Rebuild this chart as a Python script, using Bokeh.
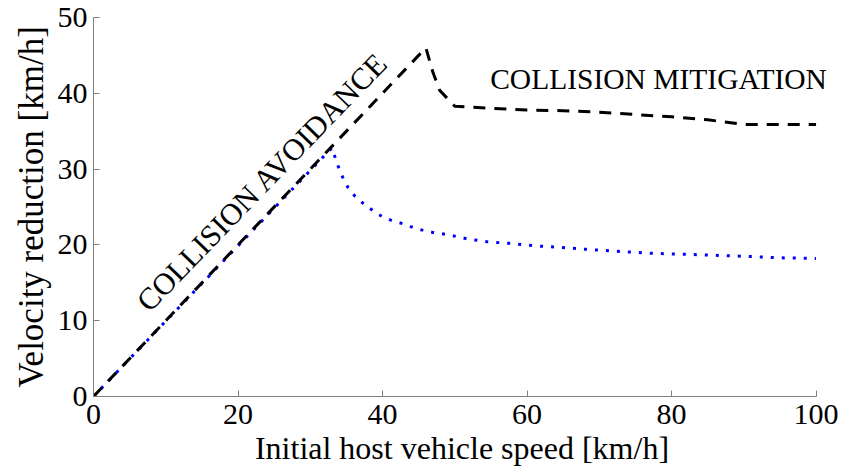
import numpy as np
from bokeh.plotting import figure
from bokeh.models import Range1d, FixedTicker, Label
from bokeh.embed import file_html
from bokeh.resources import INLINE

# Data
avoid_speed = [0, 46, 47, 47.9, 48.9, 50, 55, 60, 65, 70, 75, 80, 85, 90, 95, 100]
avoid_reduction = [0, 46, 42.7, 40.4, 39.4, 38.3, 38.0, 37.8, 37.7, 37.5, 37.2, 36.9, 36.5, 35.9, 35.9, 35.9]

mitig_speed = [0, 33, 33.8, 34.5, 35.2, 36.2, 37.3, 38.7, 40, 41.3, 42.8, 44.2, 45.7, 47.2,
               48.8, 51.7, 54.6, 57.7, 60.8, 64, 70, 77, 84, 90, 95, 100]
mitig_reduction = [0, 32.8, 30.5, 28.9, 27.6, 26.4, 25.5, 24.5, 23.7, 23.2, 22.8, 22.3, 21.9, 21.6,
                   21.4, 20.8, 20.4, 20.2, 19.9, 19.7, 19.3, 18.9, 18.7, 18.5, 18.3, 18.2]

x_ticks = [0, 20, 40, 60, 80, 100]
y_ticks = [0, 10, 20, 30, 40, 50]

label_avoid = "COLLISION AVOIDANCE"
label_mitig = "COLLISION MITIGATION"

FONT = "Liberation Serif"

p = figure(width=857, height=472, output_backend="svg", toolbar_location=None,
           x_range=Range1d(0, 102), y_range=Range1d(0, 50),
           min_border_left=93, min_border_right=27, min_border_top=17, min_border_bottom=76)
p.outline_line_color = None
p.grid.visible = False
p.background_fill_color = "white"
p.border_fill_color = "white"

p.line(mitig_speed, mitig_reduction, line_color="#0000ff", line_width=3, line_dash="3 8")
p.line(avoid_speed, avoid_reduction, line_color="black", line_width=3, line_dash="12 9")

p.add_layout(Label(x=23.4, y=28.3, text=label_avoid, angle=np.deg2rad(46),
                   text_align="center", text_baseline="middle",
                   text_font=FONT, text_font_size="30.5px", text_color="black"))
p.add_layout(Label(x=54.9, y=41.9, text=label_mitig, angle=0,
                   text_align="left", text_baseline="alphabetic",
                   text_font=FONT, text_font_size="29.5px", text_color="black"))

for ax, ticks in ((p.xaxis[0], x_ticks), (p.yaxis[0], y_ticks)):
    ax.ticker = FixedTicker(ticks=ticks)
    ax.axis_line_color = "#808080"
    ax.major_tick_line_color = "#808080"
    ax.major_tick_in = 6
    ax.major_tick_out = 0
    ax.minor_tick_line_color = None
    ax.major_label_text_font = FONT
    ax.major_label_text_font_size = "30px"
    ax.major_label_text_color = "black"
    ax.axis_label_text_font = FONT
    ax.axis_label_text_font_style = "normal"
    ax.axis_label_text_color = "black"

p.xaxis.bounds = (0, 100)
p.xaxis.axis_label = "Initial host vehicle speed [km/h]"
p.yaxis.axis_label = "Velocity reduction [km/h]"
p.xaxis.axis_label_text_font_size = "32px"
p.yaxis.axis_label_text_font_size = "35px"
p.xaxis.major_label_standoff = 8
p.xaxis.axis_label_standoff = 3
p.yaxis.major_label_standoff = 6
p.yaxis.axis_label_standoff = 4

open("out.html", "w").write(file_html(p, INLINE))
